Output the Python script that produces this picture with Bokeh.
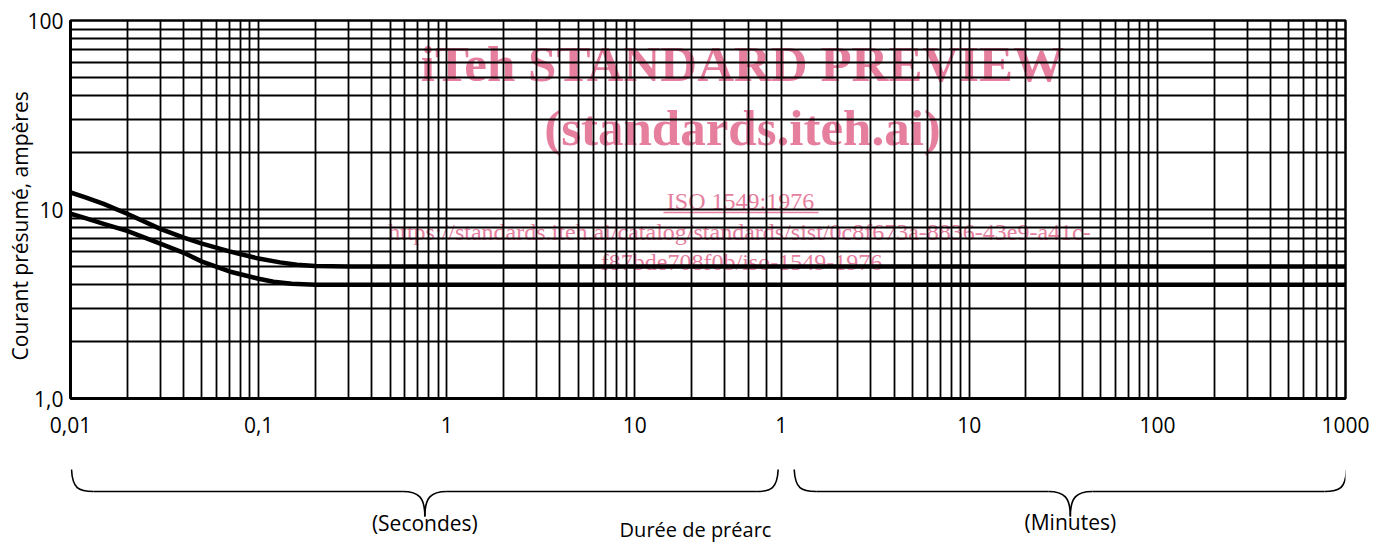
import numpy as np
from bokeh.plotting import figure
from bokeh.models import Range1d, FixedTicker
from bokeh.layouts import column
from bokeh.embed import file_html
from bokeh.resources import INLINE
from bokeh.core.properties import value

# ---------------- data ----------------
# pre-arcing time (seconds) and prospective current (amperes)
upper_t = [0.01, 0.012, 0.015, 0.02, 0.03, 0.04, 0.05, 0.07, 0.1, 0.13, 0.16, 0.2, 0.3, 60000]
upper_i = [12.3, 11.6, 10.7, 9.5, 7.9, 7.1, 6.6, 6.0, 5.5, 5.25, 5.1, 5.02, 5.0, 5.0]
lower_t = [0.01, 0.012, 0.015, 0.02, 0.03, 0.04, 0.05, 0.07, 0.1, 0.12, 0.15, 0.2, 60000]
lower_i = [9.5, 9.0, 8.4, 7.7, 6.6, 5.9, 5.3, 4.7, 4.3, 4.15, 4.05, 4.0, 4.0]

x_tick_values = [0.01, 0.1, 1, 10, 60, 600, 6000, 60000]
x_tick_labels = ["0,01", "0,1", "1", "10", "1", "10", "100", "1000"]
y_tick_values = [1, 10, 100]
y_tick_labels = ["1,0", "10", "100"]

x_start, x_end = 0.01, 60000
y_start, y_end = 1, 100

# grid lines: seconds decades, then minutes decades
grid_x = ([k * 10.0 ** d for d in (-2, -1, 0) for k in range(1, 10)] + [10, 20, 30, 40, 50]
          + [60 * k * 10.0 ** d for d in (0, 1, 2) for k in range(1, 10)] + [60000])
grid_y = [k * 10.0 ** d for d in (0, 1) for k in range(1, 10)] + [100]

PINK = "#E67E9E"
SANS = "Open Sans"

# ---------------- geometry helpers (frame: 1275 x 378 px) ----------------
FL, FR, FT, FB = 70, 30, 20, 48
FW, FH = 1275, 378
W = FL + FW + FR
lx0, lx1 = np.log10(x_start), np.log10(x_end)
ly0, ly1 = np.log10(y_start), np.log10(y_end)
ppx = FW / (lx1 - lx0)
ppy = FH / (ly1 - ly0)


def dx(px):  # page px -> data x
    return 10 ** (lx0 + (px - FL) / ppx)


def dy(py):  # page px -> data y
    return 10 ** (ly0 + (FT + FH - py) / ppy)


p = figure(width=W, height=FT + FH + FB, x_axis_type="log", y_axis_type="log",
           x_range=Range1d(x_start, x_end), y_range=Range1d(y_start, y_end),
           output_backend="svg", toolbar_location=None,
           min_border_left=FL, min_border_right=FR, min_border_top=FT, min_border_bottom=FB)

p.outline_line_color = "black"
p.outline_line_width = 2.5

for ax in (p.xaxis[0], p.yaxis[0]):
    ax.major_tick_out = 0
    ax.major_tick_in = 0
    ax.minor_tick_out = 0
    ax.minor_tick_in = 0
    ax.axis_line_width = 3
    ax.axis_line_color = "black"
    ax.major_label_text_font = SANS
    ax.major_label_text_font_size = "21px"
    ax.major_label_text_color = "black"

p.xaxis.ticker = FixedTicker(ticks=x_tick_values, minor_ticks=[])
p.xaxis.major_label_overrides = {v: l for v, l in zip(x_tick_values, x_tick_labels)}
p.xaxis.major_label_standoff = 18
p.yaxis.ticker = FixedTicker(ticks=y_tick_values, minor_ticks=[])
p.yaxis.major_label_overrides = {v: l for v, l in zip(y_tick_values, y_tick_labels)}
p.yaxis.major_label_standoff = 7

p.yaxis.axis_label = "Courant présumé, ampères" + "\u00a0" * 6
p.yaxis.axis_label_text_font = SANS
p.yaxis.axis_label_text_font_size = "21px"
p.yaxis.axis_label_text_font_style = "normal"
p.yaxis.axis_label_text_color = "black"
p.yaxis.axis_label_standoff = -10

p.xgrid.ticker = FixedTicker(ticks=grid_x, minor_ticks=[])
p.ygrid.ticker = FixedTicker(ticks=grid_y, minor_ticks=[])
for g in (p.xgrid[0], p.ygrid[0]):
    g.grid_line_color = "black"
    g.grid_line_width = 1.8
    g.grid_line_alpha = 1.0

# watermark (under the grid)
wm = [
    ("iTeh STANDARD PREVIEW", 742, 63, "51px", "bold"),
    ("(standards.iteh.ai)", 742, 127, "51px", "bold"),
    ("ISO 1549:1976", 740, 200, "24px", "normal"),
    ("https://standards.iteh.ai/catalog/standards/sist/0c8f673a-8836-43e9-a41c-", 739, 231, "24px", "normal"),
    ("f87bde708f0b/iso-1549-1976", 741, 261, "24px", "normal"),
]
for txt, cx, cy, fs, st in wm:
    r = p.text(x=[dx(cx)], y=[dy(cy)], text=[txt], text_font=value("Liberation Serif"),
               text_font_size=fs, text_font_style=st, text_color=PINK,
               text_align="center", text_baseline="middle")
    r.level = "image"
ul = p.segment(x0=[dx(663)], x1=[dx(818)], y0=[dy(212)], y1=[dy(212)],
               line_color=PINK, line_width=1.5)
ul.level = "image"

# curves
p.line(upper_t, upper_i, line_color="black", line_width=4.5, line_join="round")
p.line(lower_t, lower_i, line_color="black", line_width=4.5, line_join="round")

# ---------------- lower panel: braces and titles ----------------
BTOP = FT + FH + FB
BH = 545 - BTOP
b = figure(width=W, height=BH, x_range=Range1d(lx0, lx1), y_range=Range1d(BH, 0),
           output_backend="svg", toolbar_location=None,
           x_axis_location=None, y_axis_location=None,
           min_border_left=FL, min_border_right=FR, min_border_top=0, min_border_bottom=0)
b.grid.visible = False
b.outline_line_color = None
u = 1.0 / ppx  # one pixel in log units

y_end_, y_h, y_tip = 469 - BTOP, 491 - BTOP, 516 - BTOP
R = 22


def brace(a, c):
    m = (a + c) / 2
    bx0 = [a, m, m, c]
    by0 = [y_end_, y_tip, y_tip, y_end_]
    bx1 = [a + R * u, m - R * u, m + R * u, c - R * u]
    by1 = [y_h] * 4
    cx0 = [a + 1 * u, m, m, c - 1 * u]
    cy0 = [y_h - 3, y_h + 6, y_h + 6, y_h - 3]
    cx1 = [a + 7 * u, m - 6 * u, m + 6 * u, c - 7 * u]
    cy1 = [y_h, y_h, y_h, y_h]
    b.bezier(x0=bx0, y0=by0, x1=bx1, y1=by1, cx0=cx0, cy0=cy0, cx1=cx1, cy1=cy1,
             line_color="black", line_width=1.6)
    b.segment(x0=[a + R * u, m + R * u], x1=[m - R * u, c - R * u], y0=[y_h, y_h], y1=[y_h, y_h],
              line_color="black", line_width=1.6)
    return m


m_sec = brace(np.log10(0.01) + 1 * u, np.log10(60) - 3 * u)
m_min = brace(np.log10(60) + 13 * u, np.log10(60000) + 1 * u)

b.text(x=[m_sec, m_min], y=[522 - BTOP, 521 - BTOP], text=["(Secondes)", "(Minutes)"],
       text_font=value(SANS), text_font_size="21px", text_color="black",
       text_align="center", text_baseline="middle")
b.text(x=[lx0 + (695 - FL) * u], y=[529 - BTOP], text=["Durée de préarc"],
       text_font=value(SANS), text_font_size="20px", text_color="black",
       text_align="center", text_baseline="middle")

layout = column(p, b, spacing=0)
open("out.html", "w").write(file_html(layout, INLINE))
